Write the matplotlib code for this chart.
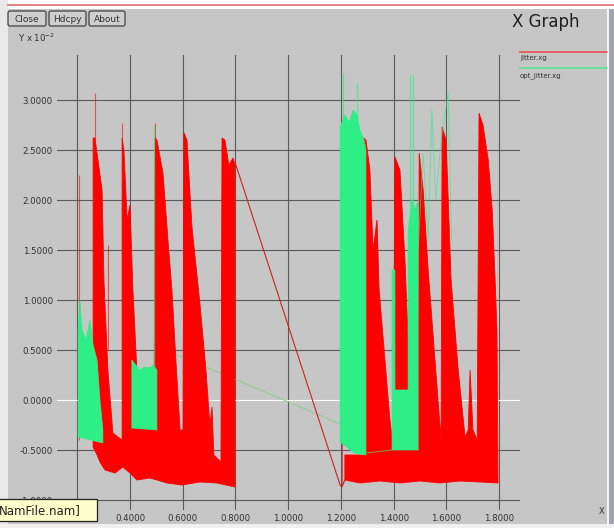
import numpy as np
import matplotlib
matplotlib.use("Agg")
import matplotlib.pyplot as plt
from matplotlib.patches import Rectangle, FancyBboxPatch

BG, GRID = "#c6c6c6", "#5a5a5a"
RED, GREEN = "#ff0000", "#2eee86"

# ---- jitter.xg (red): envelope of the dense oscillation, two clusters
red_left_top_x = [0.260, 0.260, 0.267, 0.294, 0.301, 0.316, 0.335, 0.370, 0.370, 0.377, 0.389, 0.400, 0.411,
                  0.426, 0.438, 0.491, 0.495, 0.502, 0.525, 0.544, 0.559, 0.574, 0.590, 0.601, 0.605, 0.616,
                  0.635, 0.665, 0.688, 0.703, 0.711, 0.718, 0.745, 0.749, 0.760, 0.775, 0.791, 0.798, 0.798]
red_left_top_y = [-0.47, 2.62, 2.62, 2.10, 1.20, 0.30, -0.33, -0.40, 2.62, 2.50, 1.80, 1.95, 1.10,
                  0.30, -0.28, -0.28, 2.62, 2.60, 2.27, 1.60, 1.10, 0.40, -0.30, -0.30, 2.67, 2.60,
                  1.73, 0.97, 0.30, -0.25, -0.07, -0.55, -0.62, 2.62, 2.60, 2.35, 2.42, 2.35, -0.87]
red_left_bot_x = [0.260, 0.275, 0.286, 0.305, 0.343, 0.373, 0.400, 0.426, 0.476, 0.540, 0.597, 0.665, 0.730, 0.798]
red_left_bot_y = [-0.47, -0.55, -0.62, -0.70, -0.73, -0.67, -0.73, -0.80, -0.78, -0.83, -0.85, -0.82, -0.83, -0.87]

red_right_top_x = [1.215, 1.215, 1.280, 1.280, 1.295, 1.310, 1.322, 1.337, 1.345, 1.364, 1.386, 1.398, 1.405,
                   1.424, 1.443, 1.455, 1.462, 1.470, 1.493, 1.497, 1.512, 1.531, 1.557, 1.580, 1.584, 1.599,
                   1.618, 1.645, 1.671, 1.683, 1.690, 1.701, 1.717, 1.724, 1.739, 1.759, 1.774, 1.785, 1.792, 1.796]
red_right_top_y = [-0.80, -0.55, -0.55, 2.63, 2.60, 2.30, 1.50, 1.80, 1.10, 0.50, -0.20, -0.45, 2.43,
                   2.30, 1.40, 0.60, -0.10, -0.50, -0.50, 2.47, 2.10, 1.30, 0.40, -0.40, 2.73, 2.60,
                   1.20, 0.30, -0.37, -0.30, 0.30, -0.30, -0.40, 2.87, 2.75, 2.40, 1.90, 1.20, 0.70, -0.83]
red_right_bot_x = [1.215, 1.272, 1.348, 1.424, 1.500, 1.576, 1.652, 1.728, 1.796]
red_right_bot_y = [-0.80, -0.83, -0.81, -0.83, -0.81, -0.83, -0.81, -0.82, -0.83]

red_spike_x = [0.206, 0.267, 0.316, 0.370, 0.495, 1.204, 1.234]
red_spike_lo = [-0.40, 2.60, 0.50, 2.60, 2.60, -0.85, -0.50]
red_spike_hi = [2.25, 3.07, 1.55, 2.77, 2.77, -0.35, 0.60]

red_link_x = [0.798, 1.197, 1.204, 1.215]
red_link_y = [2.38, -0.85, -0.87, -0.80]

# ---- opt_jitter.xg (green)
g1_x = [0.203, 0.203, 0.210, 0.218, 0.233, 0.248, 0.260, 0.275, 0.286, 0.297, 0.297, 0.250, 0.203]
g1_y = [-0.37, 0.70, 1.00, 0.70, 0.60, 0.80, 0.55, 0.40, 0.00, -0.30, -0.43, -0.40, -0.37]
g2_x = [0.407, 0.407, 0.422, 0.438, 0.457, 0.476, 0.487, 0.502, 0.502, 0.407]
g2_y = [-0.28, 0.40, 0.35, 0.30, 0.33, 0.32, 0.35, 0.30, -0.30, -0.28]
g3_x = [1.197, 1.197, 1.215, 1.231, 1.246, 1.261, 1.272, 1.288, 1.295, 1.295, 1.250, 1.197]
g3_y = [-0.42, 2.73, 2.85, 2.78, 2.90, 2.85, 2.70, 2.60, 2.50, -0.55, -0.53, -0.42]
g4_x = [1.394, 1.394, 1.405, 1.405, 1.455, 1.455, 1.470, 1.481, 1.493, 1.493, 1.394]
g4_y = [-0.50, 1.30, 1.30, 0.10, 0.10, 1.70, 2.00, 1.90, 2.00, -0.50, -0.50]

green_spike_x = [0.490, 1.208, 1.261, 1.462, 1.474]
green_spike_lo = [0.30, 2.70, 2.70, 1.80, 1.80]
green_spike_hi = [2.75, 3.27, 3.17, 3.25, 3.25]

green_zig_x = [1.493, 1.512, 1.531, 1.545, 1.560, 1.580, 1.607, 1.620]
green_zig_y = [1.50, 2.47, 1.60, 2.90, 2.00, 2.60, 3.07, 1.60]
green_link_x = [0.502, 0.779, 1.197]
green_link_y = [0.53, 0.23, -0.24]
green_link2_x = [1.295, 1.394]
green_link2_y = [-0.53, -0.50]

x_ticks = [0.2, 0.4, 0.6, 0.8, 1.0, 1.2, 1.4, 1.6, 1.8]
y_ticks = [-1.0, -0.5, 0.0, 0.5, 1.0, 1.5, 2.0, 2.5, 3.0]

W, H = 614, 528
fig = plt.figure(figsize=(W / 100, H / 100), dpi=100)
fig.patch.set_facecolor(BG)

# plot area in pixel terms: x 57..520, y 55..510
ax = fig.add_axes([57 / W, 1 - 510 / H, 463 / W, 455 / H])
ax.set_facecolor("none")
for s in ax.spines.values():
    s.set_visible(False)
ax.set_xlim(0.1230, 1.8794)
ax.set_ylim(-1.10, 3.45)
ax.set_xticks(x_ticks)
ax.set_yticks(y_ticks)
# the first x label sits under the file-name tooltip in the screenshot
ax.set_xticklabels(["" if v == x_ticks[0] else f"{v:.4f}" for v in x_ticks])
ax.set_yticklabels([f"{v:.4f}" for v in y_ticks])
ax.tick_params(length=0, labelsize=6.2, labelcolor="#303030", pad=3)
for v in x_ticks:
    ax.axvline(v, color=GRID, lw=0.8, zorder=1)
for v in y_ticks:
    ax.axhline(v, color="white" if v == 0 else GRID, lw=0.8, zorder=1)


def envelope(tx, ty, bx, by):
    return list(tx) + list(bx[::-1]), list(ty) + list(by[::-1])


px, py = envelope(red_left_top_x, red_left_top_y, red_left_bot_x, red_left_bot_y)
ax.fill(px, py, color=RED, lw=0.6, zorder=3)
px, py = envelope(red_right_top_x, red_right_top_y, red_right_bot_x, red_right_bot_y)
ax.fill(px, py, color=RED, lw=0.6, zorder=3)
ax.vlines(red_spike_x, red_spike_lo, red_spike_hi, color=RED, lw=0.8, alpha=0.6, zorder=3)
ax.plot(red_link_x, red_link_y, color="#d02020", lw=0.8, zorder=3)

for gx, gy in [(g1_x, g1_y), (g2_x, g2_y), (g3_x, g3_y), (g4_x, g4_y)]:
    ax.fill(gx, gy, color=GREEN, lw=0.5, zorder=4)
ax.vlines(green_spike_x, green_spike_lo, green_spike_hi, color=GREEN, lw=0.9, alpha=0.7, zorder=4)
ax.plot(green_zig_x, green_zig_y, color=GREEN, lw=0.7, alpha=0.6, zorder=4)
ax.plot(green_link_x, green_link_y, color="#8ccc8c", lw=0.7, zorder=2.5)
ax.plot(green_link2_x, green_link2_y, color="#80a040", lw=0.7, zorder=5)

# window decorations, in pixel coordinates
ov = fig.add_axes([0, 0, 1, 1], zorder=10)
ov.set_xlim(0, W)
ov.set_ylim(H, 0)
ov.axis("off")
ov.patch.set_visible(False)
ov.add_patch(Rectangle((0, 0), W, 9, color="white", lw=0))
ov.add_patch(Rectangle((0, 0), 8, H, color="#e8e8e8", lw=0))
ov.add_patch(Rectangle((0, 524), W, 4, color="#f0f0f0", lw=0))
ov.add_patch(Rectangle((609, 9), 5, 515, color="#a4a4ae", lw=0))
ov.plot([8, W], [5, 5], color="#e07070", lw=1.2)
ov.plot([607.5, 607.5], [9, 524], color="white", lw=1.2)
for x0, x1, lab in [(8, 46, "Close"), (49, 86, "Hdcpy"), (89, 125, "About")]:
    ov.add_patch(FancyBboxPatch((x0, 11), x1 - x0, 15, boxstyle="round,pad=0,rounding_size=2",
                                fc="#cfcfcf", ec="#404040", lw=0.9))
    ov.text((x0 + x1) / 2, 19, lab, ha="center", va="center", fontsize=6.5, color="#303030")
ov.text(18, 38, "Y x 10$^{-2}$", ha="left", va="center", fontsize=6.2, color="#303030")
ov.text(512, 22, "X Graph", ha="left", va="center", fontsize=12, color="#202020")
ov.plot([520, 607], [52, 52], color=RED, lw=1.2, alpha=0.6)
ov.text(520, 58, "jitter.xg", ha="left", va="center", fontsize=5, color="#303030")
ov.plot([520, 607], [68, 68], color=GREEN, lw=1.2, alpha=0.7)
ov.text(520, 76, "opt_jitter.xg", ha="left", va="center", fontsize=5, color="#303030")
ov.text(602, 512, "X", ha="center", va="center", fontsize=6, color="#303030")
ov.add_patch(Rectangle((-2, 499), 99, 22, fc="#ffffcc", ec="#202020", lw=0.9))
ov.text(-1, 511, "NamFile.nam]", ha="left", va="center", fontsize=8.5, color="#202020")

fig.savefig("out.png", dpi=100, facecolor=fig.get_facecolor())
